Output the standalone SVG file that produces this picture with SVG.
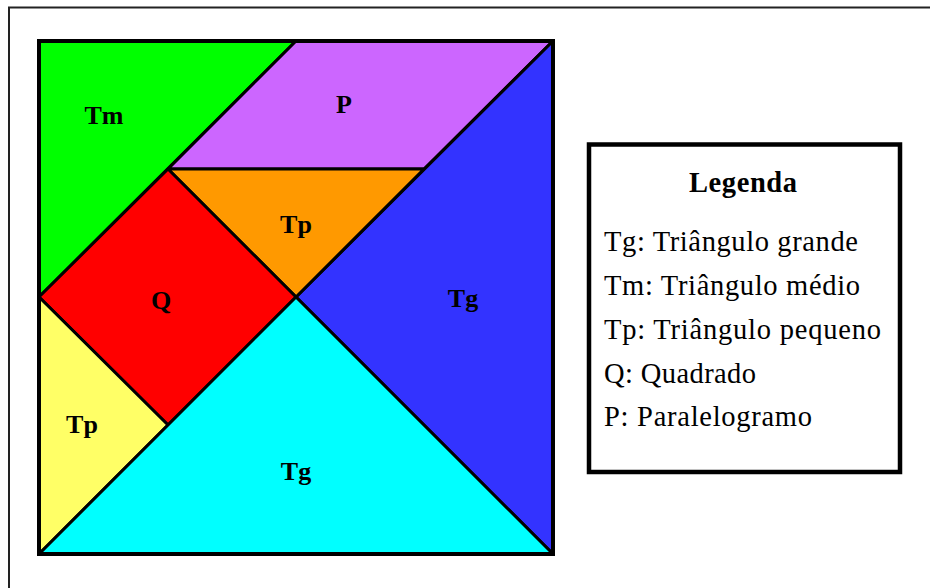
<svg xmlns="http://www.w3.org/2000/svg" width="930" height="588" viewBox="0 0 930 588">
<style>
.pc{stroke:#000;stroke-width:3;stroke-linejoin:round}
.lb{font-family:"Liberation Serif","DejaVu Serif",serif;font-weight:bold;font-size:26px;text-anchor:middle;fill:#000}
.lg{font-family:"Liberation Serif","DejaVu Serif",serif;font-size:28.5px;fill:#000}
</style>
<rect width="930" height="588" fill="#fff"/>
<rect x="9" y="7.5" width="940" height="600" fill="none" stroke="#222" stroke-width="2"/>
<g id="tm"><polygon class="pc" fill="#00ff00" points="39,41 296,41 39,297"/><text class="lb" x="104" y="124">Tm</text></g>
<g id="p"><polygon class="pc" fill="#cc66ff" points="296,41 553,41 424,169 168,169"/><text class="lb" x="344" y="113">P</text></g>
<g id="tg1"><polygon class="pc" fill="#3333ff" points="553,41 553,554 296,297"/><text class="lb" x="463" y="307">Tg</text></g>
<g id="tp1"><polygon class="pc" fill="#ff9900" points="168,169 424,169 296,297"/><text class="lb" x="296" y="233">Tp</text></g>
<g id="q"><polygon class="pc" fill="#ff0000" points="168,169 296,297 168,425 39,297"/><text class="lb" x="161" y="309">Q</text></g>
<g id="tp2"><polygon class="pc" fill="#ffff66" points="39,297 168,425 39,554"/><text class="lb" x="82" y="433">Tp</text></g>
<g id="tg2"><polygon class="pc" fill="#00ffff" points="39,554 296,297 553,554"/><text class="lb" x="296" y="480">Tg</text></g>
<rect x="39" y="41" width="514" height="513" fill="none" stroke="#000" stroke-width="4"/>
<g id="legend">
<rect x="589" y="144.5" width="311" height="327.5" fill="#fff" stroke="#000" stroke-width="4.5"/>
<text class="lb" x="743" y="192" style="font-size:28.5px" textLength="108">Legenda</text>
<text class="lg" x="604" y="251" textLength="254">Tg: Triângulo grande</text>
<text class="lg" x="604" y="295" textLength="256">Tm: Triângulo médio</text>
<text class="lg" x="604" y="339" textLength="277">Tp: Triângulo pequeno</text>
<text class="lg" x="604" y="383" textLength="152">Q: Quadrado</text>
<text class="lg" x="604" y="426" textLength="208">P: Paralelogramo</text>
</g>
</svg>
